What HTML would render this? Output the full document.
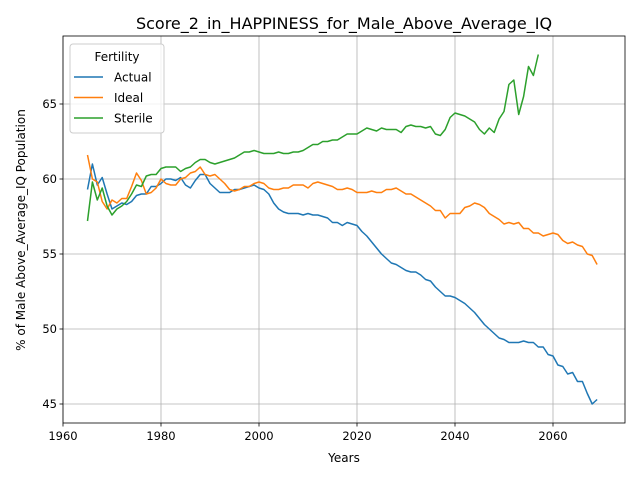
<!DOCTYPE html>
<html><head><meta charset="utf-8"><style>
body{margin:0;background:#fff;}
svg text{font-family:"DejaVu Sans","Liberation Sans",sans-serif;}
</style></head><body>
<svg id="c" width="640" height="480" xmlns="http://www.w3.org/2000/svg"></svg>
<script>
const startYear = 1965;
const actual = [59.3,61.0,59.6,60.1,59.0,58.0,58.2,58.4,58.3,58.5,58.9,59.0,59.0,59.5,59.5,59.7,60.0,60.0,59.9,60.1,59.6,59.4,59.9,60.3,60.3,59.7,59.4,59.1,59.1,59.1,59.3,59.3,59.4,59.5,59.6,59.4,59.3,59.0,58.4,58.0,57.8,57.7,57.7,57.7,57.6,57.7,57.6,57.6,57.5,57.4,57.1,57.1,56.9,57.1,57.0,56.9,56.5,56.2,55.8,55.4,55.0,54.7,54.4,54.3,54.1,53.9,53.8,53.8,53.6,53.3,53.2,52.8,52.5,52.2,52.2,52.1,51.9,51.7,51.4,51.1,50.7,50.3,50.0,49.7,49.4,49.3,49.1,49.1,49.1,49.2,49.1,49.1,48.8,48.8,48.3,48.2,47.6,47.5,47.0,47.1,46.5,46.5,45.7,45.0,45.3];
const ideal = [61.6,60.0,59.8,58.5,58.0,58.6,58.4,58.7,58.7,59.5,60.4,59.9,59.0,59.1,59.4,60.0,59.7,59.6,59.6,60.0,60.1,60.4,60.5,60.8,60.3,60.2,60.3,60.0,59.7,59.3,59.2,59.3,59.5,59.5,59.7,59.8,59.7,59.4,59.3,59.3,59.4,59.4,59.6,59.6,59.6,59.4,59.7,59.8,59.7,59.6,59.5,59.3,59.3,59.4,59.3,59.1,59.1,59.1,59.2,59.1,59.1,59.3,59.3,59.4,59.2,59.0,59.0,58.8,58.6,58.4,58.2,57.9,57.9,57.4,57.7,57.7,57.7,58.1,58.2,58.4,58.3,58.1,57.7,57.5,57.3,57.0,57.1,57.0,57.1,56.7,56.7,56.4,56.4,56.2,56.3,56.4,56.3,55.9,55.7,55.8,55.6,55.5,55.0,54.9,54.3];
const sterile = [57.2,59.8,58.6,59.4,58.2,57.6,58.0,58.2,58.5,59.0,59.6,59.5,60.2,60.3,60.3,60.7,60.8,60.8,60.8,60.5,60.7,60.8,61.1,61.3,61.3,61.1,61.0,61.1,61.2,61.3,61.4,61.6,61.8,61.8,61.9,61.8,61.7,61.7,61.7,61.8,61.7,61.7,61.8,61.8,61.9,62.1,62.3,62.3,62.5,62.5,62.6,62.6,62.8,63.0,63.0,63.0,63.2,63.4,63.3,63.2,63.4,63.3,63.3,63.3,63.1,63.5,63.6,63.5,63.5,63.4,63.5,63.0,62.9,63.3,64.1,64.4,64.3,64.2,64.0,63.8,63.3,63.0,63.4,63.1,64.0,64.5,66.3,66.6,64.3,65.5,67.5,66.9,68.3];
const xTicks = [1960,1980,2000,2020,2040,2060];
const yTicks = [45,50,55,60,65];
const seriesNames = ["Actual","Ideal","Sterile"];
const colors = ["#1f77b4","#ff7f0e","#2ca02c"];

const L=63,R=625,T=36,B=423;
const X = y => 161 + (y-1980)*4.9;
const Y = v => 404 - (v-45)*15;
const NS="http://www.w3.org/2000/svg";
const svg=document.getElementById('c');
function mk(t,a){const e=document.createElementNS(NS,t);for(const k in a)e.setAttribute(k,a[k]);svg.appendChild(e);return e;}

// grid
xTicks.forEach(t=>{const x=X(t);
 const g=mk('line',{x1:x,x2:x,y1:T,y2:B,stroke:'#b0b0b0','stroke-width':0.8});
 
 
 mk('line',{x1:x,x2:x,y1:B,y2:B+3.5,stroke:'#000','stroke-width':0.8});
 const tx=mk('text',{x:x,y:B+17,'font-size':11.5,'text-anchor':'middle',fill:'#000'});tx.textContent=t;
 
 
});
yTicks.forEach(t=>{const y=Y(t);
 const g=mk('line',{x1:L,x2:R,y1:y,y2:y,stroke:'#b0b0b0','stroke-width':0.8});
 
 
 mk('line',{x1:L-3.5,x2:L,y1:y,y2:y,stroke:'#000','stroke-width':0.8});
 const tx=mk('text',{x:L-6,y:y+4,'font-size':11.5,'text-anchor':'end',fill:'#000'});tx.textContent=t;
 
 
});

// series
[actual,ideal,sterile].forEach((s,i)=>{
 const pts=s.map((v,k)=>X(startYear+k).toFixed(1)+','+Y(v).toFixed(1)).join(' ');
 const p=mk('polyline',{points:pts,fill:'none',stroke:colors[i],'stroke-width':1.5,'stroke-linejoin':'round'});
 
 
});

// frame
const fr=mk('rect',{x:L,y:T,width:R-L,height:B-T,fill:'none',stroke:'#000','stroke-width':0.8});



// titles
let t=mk('text',{x:(L+R)/2,y:29,'font-size':16,'text-anchor':'middle'});t.textContent='Score_2_in_HAPPINESS_for_Male_Above_Average_IQ';


t=mk('text',{x:(L+R)/2,y:462,'font-size':12,'text-anchor':'middle'});t.textContent='Years';


t=mk('text',{x:0,y:0,'font-size':12,'text-anchor':'middle',transform:'translate(25,230) rotate(-90)'});t.textContent='% of Male Above_Average_IQ Population';



// legend
const lg=mk('rect',{x:70,y:44,width:94,height:89,rx:3,fill:'#fff','fill-opacity':0.8,stroke:'#ccc','stroke-width':1});


t=mk('text',{x:117,y:61,'font-size':12,'text-anchor':'middle'});t.textContent='Fertility';


seriesNames.forEach((n,i)=>{const y=77+i*20.5;
 const ln=mk('line',{x1:74,x2:103,y1:y,y2:y,stroke:colors[i],'stroke-width':1.5});
 
 
 const tx=mk('text',{x:114,y:y+4.5,'font-size':12});tx.textContent=n;
 
 
});
</script>
</body></html>
